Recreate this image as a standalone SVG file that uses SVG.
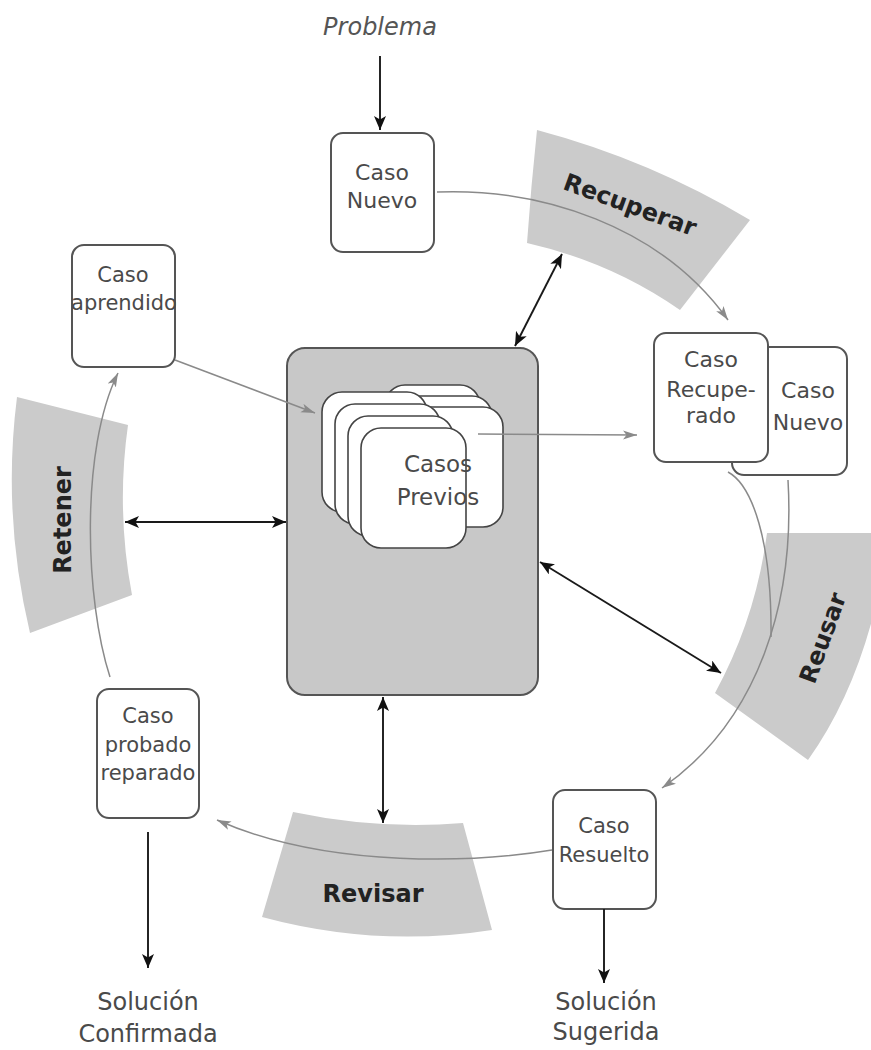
<svg xmlns="http://www.w3.org/2000/svg" width="871" height="1050" viewBox="0 0 871 1050">
  <defs>
    <style>
      .band { fill: #cbcbcb; }
      .blabel { font-family: "DejaVu Sans", Verdana, sans-serif; font-weight: bold; font-size: 24px; fill: #222; text-anchor: middle; }
      .box { fill: #fff; stroke: #555; stroke-width: 2; }
      .card { fill: #fff; stroke: #444; stroke-width: 1.6; }
      .t { font-family: "DejaVu Sans", Verdana, sans-serif; font-size: 21px; fill: #4a4a4a; text-anchor: middle; }
      .t22 { font-size: 22px; }
      .t24 { font-size: 24px; }
      .blk { fill: none; stroke: #1a1a1a; stroke-width: 1.9; }
      .gry { fill: none; stroke: #8a8a8a; stroke-width: 1.5; }
    </style>
    <marker id="ah" viewBox="0 0 14 12" refX="14" refY="6" markerWidth="14" markerHeight="12" orient="auto-start-reverse" markerUnits="userSpaceOnUse">
      <path d="M0,0 L14,6 L0,12 L3.5,6 Z" fill="#111"/>
    </marker>
    <marker id="gh" viewBox="0 0 14 10" refX="14" refY="5" markerWidth="14" markerHeight="10" orient="auto" markerUnits="userSpaceOnUse">
      <path d="M0,0.5 L14,5 L0,9.5 L3.5,5 Z" fill="#8a8a8a"/>
    </marker>
  </defs>

  <rect width="871" height="1050" fill="#fff"/>

  <!-- stage bands -->
  <g id="recuperar">
    <path class="band" d="M537,130 Q650,160 750,220 L680,310 Q611,262 527,243 Q531,186 537,130 Z"/>
    <text class="blabel" transform="translate(630,205) rotate(20)" x="0" y="8">Recuperar</text>
  </g>
  <g id="retener">
    <path class="band" d="M17,397 L128,425 Q116,510 132,595 L30,633 Q2,515 17,397 Z"/>
    <text class="blabel" transform="translate(63,520) rotate(-90)" x="0" y="8">Retener</text>
  </g>
  <g id="reusar">
    <path class="band" d="M767,533 L890,533 L885,560 Q865,680 808,760 L715,693 Q756,618 767,533 Z"/>
    <text class="blabel" transform="translate(823,638) rotate(-70)" x="0" y="8">Reusar</text>
  </g>
  <g id="revisar">
    <path class="band" d="M293,812 Q378,830 463,823 L492,930 Q377,948 262,917 Z"/>
    <text class="blabel" x="373" y="902">Revisar</text>
  </g>

  <!-- case base -->
  <g id="casos-previos">
    <rect x="287" y="348" width="251" height="347" rx="18" fill="#c8c8c8" stroke="#555" stroke-width="2"/>
    <rect class="card" x="385" y="385" width="95" height="120" rx="20"/>
    <rect class="card" x="396" y="396" width="96" height="120" rx="20"/>
    <rect class="card" x="408" y="407" width="95" height="120" rx="20"/>
    <rect class="card" x="322" y="392" width="105" height="120" rx="20"/>
    <rect class="card" x="335" y="404" width="105" height="120" rx="20"/>
    <rect class="card" x="348" y="416" width="105" height="120" rx="20"/>
    <rect class="card" x="361" y="428" width="105" height="120" rx="20"/>
    <text class="t" style="font-size:23px" x="438" y="472">Casos</text>
    <text class="t" style="font-size:23px" x="438" y="505">Previos</text>
  </g>

  <g id="problema">
    <text class="t t24" x="380" y="35" font-style="italic" style="fill:#555">Problema</text>
  </g>

  <g id="caso-nuevo">
    <rect class="box" x="331" y="133" width="103" height="119" rx="12"/>
    <text class="t t22" x="382" y="180">Caso</text>
    <text class="t t22" x="382" y="208">Nuevo</text>
  </g>

  <g id="caso-aprendido">
    <rect class="box" x="72" y="245" width="103" height="122" rx="12"/>
    <text class="t" x="123" y="282">Caso</text>
    <text class="t" x="124" y="310">aprendido</text>
  </g>

  <g id="caso-recuperado">
    <rect class="box" x="732" y="347" width="115" height="128" rx="12"/>
    <text class="t t22" x="808" y="398">Caso</text>
    <text class="t t22" x="808" y="430">Nuevo</text>
    <rect class="box" x="654" y="333" width="114" height="129" rx="12"/>
    <text class="t t22" x="711" y="367">Caso</text>
    <text class="t t22" x="711" y="397">Recupe-</text>
    <text class="t t22" x="711" y="423">rado</text>
  </g>

  <g id="caso-resuelto">
    <rect class="box" x="553" y="790" width="103" height="119" rx="12"/>
    <text class="t" x="604" y="833">Caso</text>
    <text class="t" x="604" y="862">Resuelto</text>
  </g>

  <g id="caso-probado">
    <rect class="box" x="97" y="689" width="102" height="129" rx="12"/>
    <text class="t" x="148" y="723">Caso</text>
    <text class="t" x="148" y="752">probado</text>
    <text class="t" x="148" y="780">reparado</text>
  </g>

  <g id="solucion-confirmada">
    <text class="t t24" x="148" y="1010">Solución</text>
    <text class="t t24" x="148" y="1042">Confirmada</text>
  </g>

  <g id="solucion-sugerida">
    <text class="t t24" x="606" y="1010">Solución</text>
    <text class="t t24" x="606" y="1040">Sugerida</text>
  </g>

  <!-- connectors -->
  <g id="connectors">
    <!-- inputs and outputs -->
    <path class="blk" d="M380,56 L380,130" marker-end="url(#ah)"/>
    <path class="blk" d="M148,832 L148,968" marker-end="url(#ah)"/>
    <path class="blk" d="M604,909 L604,983" marker-end="url(#ah)"/>

    <!-- case base exchanges with each stage -->
    <path class="blk" d="M515,346 L562,254" marker-start="url(#ah)" marker-end="url(#ah)"/>
    <path class="blk" d="M286,522 L125,522" marker-start="url(#ah)" marker-end="url(#ah)"/>
    <path class="blk" d="M540,562 L721,673" marker-start="url(#ah)" marker-end="url(#ah)"/>
    <path class="blk" d="M383,697 L383,823" marker-start="url(#ah)" marker-end="url(#ah)"/>

    <!-- cycle flow -->
    <path class="gry" d="M437,192 C540,188 660,225 728,320" marker-end="url(#gh)"/>
    <path class="gry" d="M478,434 L637,435" marker-end="url(#gh)"/>
    <path class="gry" d="M175,360 L315,413" marker-end="url(#gh)"/>
    <path class="gry" d="M728,472 C752,485 772,540 771,637"/>
    <path class="gry" d="M788,480 C795,600 760,720 662,788" marker-end="url(#gh)"/>
    <path class="gry" d="M552,850 C480,862 330,870 217,820" marker-end="url(#gh)"/>
    <path class="gry" d="M110,677 C85,600 80,450 118,373" marker-end="url(#gh)"/>
  </g>
</svg>
